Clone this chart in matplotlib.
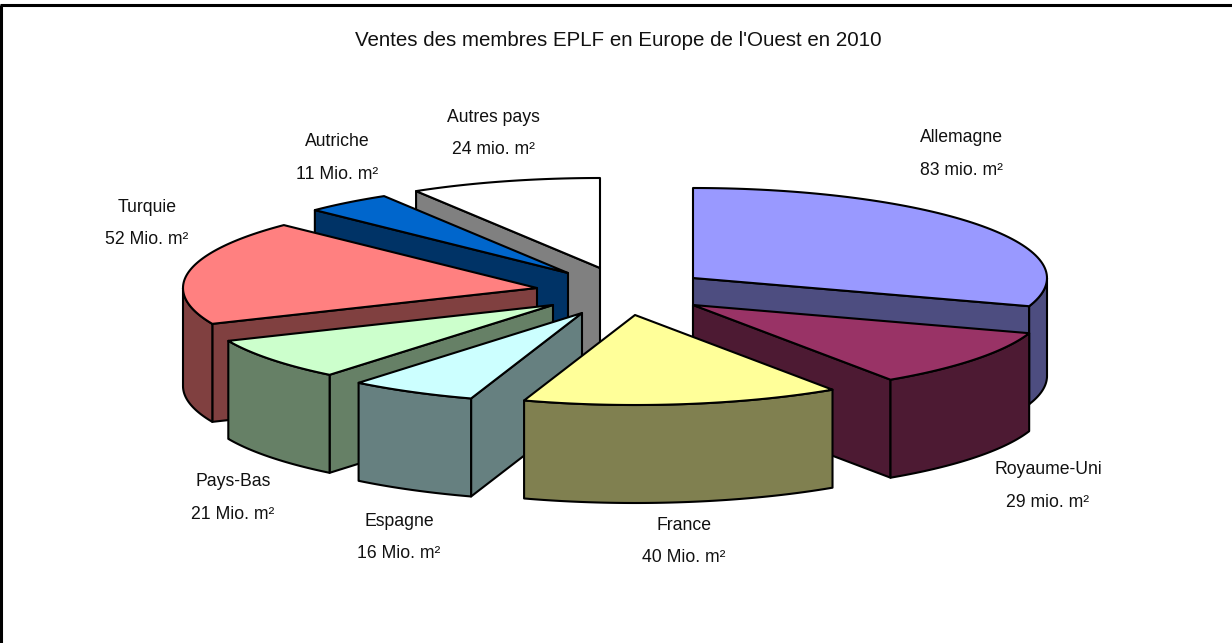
import numpy as np
import matplotlib
matplotlib.use("Agg")
import matplotlib.pyplot as plt
from matplotlib.patches import Polygon

plt.rcParams['font.family'] = ['Liberation Sans', 'DejaVu Sans']

TITLE = "Ventes des membres EPLF en Europe de l'Ouest en 2010"
names = ["Allemagne", "Royaume-Uni", "France", "Espagne", "Pays-Bas", "Turquie", "Autriche", "Autres pays"]
values = [83, 29, 40, 16, 21, 52, 11, 24]
units = ["mio.", "mio.", "Mio.", "Mio.", "Mio.", "Mio.", "Mio.", "mio."]

top_colors = ["#9999FF", "#993366", "#FFFF99", "#CCFFFF", "#CCFFCC", "#FF8080", "#0066CC", "#FFFFFF"]
side_colors = ["#4D4D80", "#4D1A33", "#808050", "#668080", "#668066", "#804040", "#003366", "#808080"]

# Pixel position of each exploded slice's apex, and of its label
apex_x = [693, 693, 635, 582, 553, 537, 568, 600]
apex_y = [278, 305, 315, 313, 305, 288, 273, 268]
label_x = [961, 1048, 684, 399, 233, 147, 337, 493]
label_y = [138, 470, 525, 521, 482, 207, 142, 117]
LINE_GAP = 32.5
draw_order = [7, 6, 5, 0, 4, 1, 3, 2]

RX, RY, DEPTH = 354, 90, 98
W, H = 1232, 643

fig = plt.figure(figsize=(W / 100, H / 100), dpi=100, facecolor="white")
ax = fig.add_axes([0, 0, 1, 1])
ax.set_xlim(0, W)
ax.set_ylim(H, 0)
ax.axis("off")

ax.plot([0, W], [5, 5], color="black", lw=2.2, solid_capstyle="butt")
ax.plot([1, 1], [5, H], color="black", lw=2.2, solid_capstyle="butt")

edges = np.cumsum([0] + values) / np.sum(values) * 2 * np.pi


def rim(cx, cy, a0, a1, n=80):
    t = np.linspace(a0, a1, n)
    return np.column_stack([cx + RX * np.sin(t), cy - RY * np.cos(t)])


def face(points, color, z):
    ax.add_patch(Polygon(points, closed=True, facecolor=color, edgecolor="black",
                         linewidth=1.5, joinstyle="round", zorder=z))


def wall_faces_viewer(apex, end, mid):
    # A cut wall shows only when the slice's top lies above its upper edge on screen.
    dx, dy = end - apex
    if abs(dx) < 1:
        return False
    return mid[1] < apex[1] + dy * (mid[0] - apex[0]) / dx


down = np.array([0, DEPTH])
for rank, i in enumerate(draw_order):
    cx, cy = apex_x[i], apex_y[i]
    a0, a1 = edges[i], edges[i + 1]
    z = 2 + rank
    apex = np.array([cx, cy], float)
    arc = rim(cx, cy, a0, a1)
    mid = arc[len(arc) // 2]
    for end in (arc[0], arc[-1]):
        if wall_faces_viewer(apex, end, mid):
            face([apex, end, end + down, apex + down], side_colors[i], z)
    lo, hi = max(a0, np.pi / 2), min(a1, 3 * np.pi / 2)
    if hi > lo:
        front = rim(cx, cy, lo, hi)
        face(np.vstack([front, (front + down)[::-1]]), side_colors[i], z)
    face(np.vstack([apex, arc]), top_colors[i], z)

ax.text(618, 41, TITLE, ha="center", va="center", fontsize=14.8, color="#111111", zorder=20)
for i, name in enumerate(names):
    ax.text(label_x[i], label_y[i], name, ha="center", va="center",
            fontsize=12.7, color="#111111", zorder=20)
    ax.text(label_x[i], label_y[i] + LINE_GAP, f"{values[i]} {units[i]} m²", ha="center", va="center",
            fontsize=12.7, color="#111111", zorder=20)

fig.savefig("out.png", dpi=100, facecolor="white")
